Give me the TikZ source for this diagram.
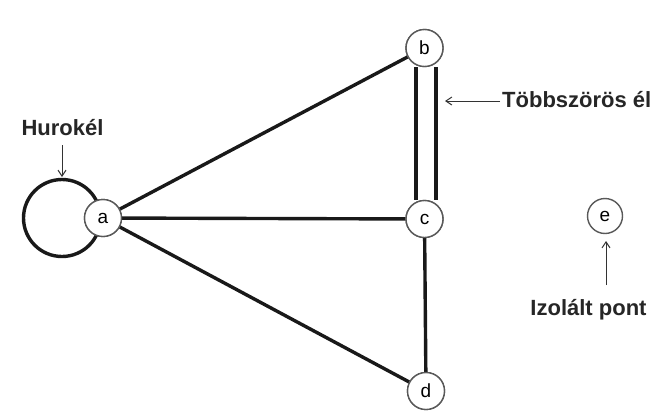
\documentclass[tikz,border=0pt]{standalone}
\usepackage{fontspec}
\setmainfont{Liberation Sans}
\usetikzlibrary{arrows.meta}
\begin{document}
\begin{tikzpicture}[x=1pt,y=-1pt,
  vtx/.style={circle,draw=black!65,line width=1.4pt,fill=white,minimum size=37pt,inner sep=0pt,font=\fontsize{19}{19}\selectfont},
  edge/.style={line width=3.4pt,black!90},
  lbl/.style={font=\bfseries\fontsize{22}{24}\selectfont,inner sep=0pt,text=black!85},
  pointer/.style={line width=1pt,black!80,-{Straight Barb[length=6pt,width=8pt]}}]
\useasboundingbox (0,0) rectangle (659,410);
\fill[white] (0,0) rectangle (659,410);
% loop
\draw[edge] (62,218) circle (38.5);
\coordinate (looptop) at (62,177);
\node[vtx] (a) at (103,218) {a};
\node[vtx] (b) at (424.5,48) {b};
\node[vtx] (c) at (424.5,219) {c};
\node[vtx] (d) at (426,391) {d};
\node[vtx,minimum size=35pt] (e) at (605,216) {e};
\draw[edge] (a) -- (b);
\draw[edge] (a) -- (c);
\draw[edge] (a) -- (d);
\draw[edge] (c) -- (d);
\draw[edge] ([xshift=-8.5pt]b.south) -- ([xshift=-8.5pt]c.north);
\draw[edge] ([xshift=11.5pt]b.south) -- ([xshift=11.5pt]c.north);
\node[vtx] at (a) {a};
\node[vtx] at (b) {b};
\node[vtx] at (c) {c};
\node[vtx] at (d) {d};
% labels
\node[lbl,anchor=base] (hl) at (62.5,135) {Hurokél};
\coordinate (hs) at (62,145);
\draw[pointer] (hs) -- (looptop);
\node[lbl,anchor=base west] (tl) at (502,107) {Többszörös él};
\coordinate (ts) at (500,101);
\coordinate (mt) at (445,101);
\draw[pointer] (ts) -- (mt);
\node[lbl,anchor=base] (il) at (588.5,315) {Izolált pont};
\coordinate (is) at (606,285);
\coordinate (ie) at (606,241);
\draw[pointer] (is) -- (ie);
\end{tikzpicture}
\end{document}
